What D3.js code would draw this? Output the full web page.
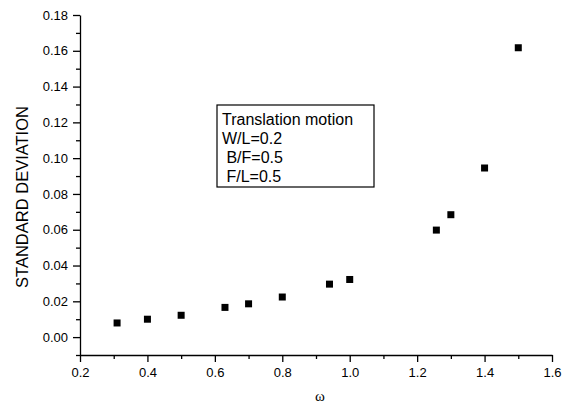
<!DOCTYPE html>
<html>
<head>
<meta charset="utf-8">
<script src="https://cdn.jsdelivr.net/npm/d3@7"></script>
<style>
  body { margin: 0; background: #fff; }
  .axis text { font: 13px "Liberation Sans", Arial, sans-serif; fill: #000; }
  .axis path, .axis line { stroke: #000; stroke-width: 1.3; }
</style>
</head>
<body>
<svg id="chart" width="574" height="407"></svg>
<script>
// data
let omega = [0.31, 0.40, 0.50, 0.63, 0.70, 0.80, 0.94, 1.00, 1.257, 1.30, 1.40, 1.50];
let stdDev = [0.0079, 0.0100, 0.0122, 0.0166, 0.0186, 0.0224, 0.0296, 0.0322, 0.0598, 0.0684, 0.0945, 0.1617];
let xTicks = [0.2, 0.4, 0.6, 0.8, 1.0, 1.2, 1.4, 1.6];
let yTicks = [0.00, 0.02, 0.04, 0.06, 0.08, 0.10, 0.12, 0.14, 0.16, 0.18];
let legendLines = ["Translation motion", "W/L=0.2", " B/F=0.5", " F/L=0.5"];

let svg = d3.select("#chart"),
    margin = {top: 15, right: 22, bottom: 52, left: 80},
    width = svg.attr("width") - margin.left - margin.right,
    height = svg.attr("height") - margin.top - margin.bottom,
    g = svg.append("g").attr("transform", "translate(" + margin.left + "," + margin.top + ")");

let x = d3.scaleLinear().domain([0.2, 1.6]).range([0, width]),
    y = d3.scaleLinear().domain([-0.01, 0.18]).range([height, 0]);

//minor ticks first
g.append("g")
    .attr("class", "axis")
    .attr("transform", "translate(0," + height + ")")
    .call(d3.axisBottom(x).tickValues(d3.range(0.3, 1.6, 0.2)).tickSize(4).tickFormat(""))
    .select(".domain").remove();
g.append("g")
    .attr("class", "axis")
    .call(d3.axisLeft(y).tickValues(d3.range(0.01, 0.18, 0.02).concat([-0.01])).tickSize(4).tickFormat(""))
    .select(".domain").remove();

//major axes
g.append("g")
    .attr("class", "axis")
    .attr("transform", "translate(0," + height + ")")
    .call(d3.axisBottom(x).tickValues(xTicks).tickSize(7).tickSizeOuter(0).tickPadding(6).tickFormat(d3.format(".1f")));

g.append("g")
    .attr("class", "axis")
    .call(d3.axisLeft(y).tickValues(yTicks).tickSize(7).tickSizeOuter(0).tickPadding(5).tickFormat(d3.format(".2f")));

//points
g.selectAll(".pt")
    .data(omega)
    .enter()
    .append("rect")
    .attr("class", "pt")
    .attr("x", function(d) { return x(d) - 3.5; })
    .attr("y", function(d, i) { return y(stdDev[i]) - 3.5; })
    .attr("width", 7)
    .attr("height", 7)
    .style("fill", "#000");

//axis titles
svg.append("text")
    .attr("transform", "translate(28,197) rotate(-90)")
    .attr("text-anchor", "middle")
    .style("font", "16.5px 'Liberation Sans', Arial, sans-serif")
    .text("STANDARD DEVIATION");

svg.append("text")
    .attr("x", 320)
    .attr("y", 401)
    .attr("text-anchor", "middle")
    .style("font", "15px 'Liberation Serif', 'Times New Roman', serif")
    .text("ω");

//legend box
let legend = svg.append("g").attr("transform", "translate(217,105)");
legend.append("rect")
    .attr("width", 157)
    .attr("height", 82)
    .style("fill", "#fff")
    .style("stroke", "#000")
    .style("stroke-width", 1.2);
legend.selectAll("text")
    .data(legendLines)
    .enter()
    .append("text")
    .attr("x", 5)
    .attr("y", function(d, i) { return 20 + i * 19; })
    .attr("xml:space", "preserve")
    .style("white-space", "pre")
    .style("font", "16px 'Liberation Sans', Arial, sans-serif")
    .text(function(d) { return d; });
</script>
</body>
</html>
